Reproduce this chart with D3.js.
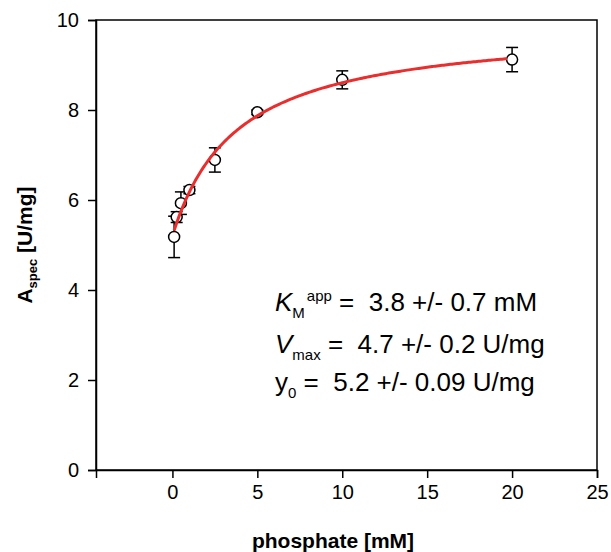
<!DOCTYPE html>
<html>
<head>
<meta charset="utf-8">
<script src="https://cdn.jsdelivr.net/npm/d3@7"></script>
<style>
  html, body { margin: 0; padding: 0; background: #fff; }
  svg { display: block; font-family: "Liberation Sans", Arial, sans-serif; }
  .pre { white-space: pre; }
</style>
</head>
<body>
<svg id="chart" width="611" height="552"></svg>
<script>
// ---- data ----
const phosphate = [0.1, 0.25, 0.5, 1, 2.5, 5, 10, 20];
const activity  = [5.18, 5.62, 5.93, 6.22, 6.89, 7.95, 8.67, 9.12];
const errors    = [0.46, 0.12, 0.25, 0.08, 0.27, 0.05, 0.2, 0.27];
const xTicks = [0, 5, 10, 15, 20, 25];
const yTicks = [0, 2, 4, 6, 8, 10];
// fit parameters (shown in the chart)
const fitKm = 3.8, fitVmax = 4.7, fitY0 = 5.2;
const fitRange = [0.1, 19.7];

const svg = d3.select("#chart");
const x = d3.scaleLinear().domain([-4.5, 25]).range([96, 597]);
const y = d3.scaleLinear().domain([0, 10]).range([470, 20]);

// frame
svg.append("rect").attr("x", 96).attr("y", 20).attr("width", 501).attr("height", 450)
  .attr("fill", "none").attr("stroke", "#000").attr("stroke-width", 1.5);

// axes
const xAxis = svg.append("g").attr("transform", "translate(0,470)")
  .call(d3.axisBottom(x).tickValues(xTicks).tickSize(8).tickPadding(7).tickFormat(d3.format("d")));
const yAxis = svg.append("g").attr("transform", "translate(96,0)")
  .call(d3.axisLeft(y).tickValues(yTicks).tickSize(8).tickPadding(9).tickFormat(d3.format("d")));
[xAxis, yAxis].forEach(g => {
  g.select(".domain").attr("stroke-width", 1.5);
  g.selectAll(".tick line").attr("stroke-width", 1.5);
  g.selectAll(".tick text").attr("font-size", 20).attr("fill", "#000")
    .attr("font-family", "'Liberation Sans', Arial, sans-serif");
});

// axis titles
svg.append("text").attr("x", 333).attr("y", 548).attr("text-anchor", "middle")
  .attr("font-size", 21).attr("font-weight", "bold").text("phosphate [mM]");
const yt = svg.append("text").attr("transform", "translate(32,245) rotate(-90)")
  .attr("text-anchor", "middle").attr("font-size", 21).attr("font-weight", "bold");
yt.append("tspan").text("A");
yt.append("tspan").attr("font-size", 13).attr("dy", 5).text("spec");
yt.append("tspan").attr("dy", -5).attr("class", "pre").text(" [U/mg]");

// error bars
const eb = svg.append("g").attr("stroke", "#000").attr("stroke-width", 1.5);
phosphate.forEach((p, i) => {
  const cx = x(p), lo = y(activity[i] - errors[i]), hi = y(activity[i] + errors[i]);
  eb.append("line").attr("x1", cx).attr("x2", cx).attr("y1", lo).attr("y2", hi);
  eb.append("line").attr("x1", cx - 6).attr("x2", cx + 6).attr("y1", lo).attr("y2", lo);
  eb.append("line").attr("x1", cx - 6).attr("x2", cx + 6).attr("y1", hi).attr("y2", hi);
});

// points
svg.append("g").selectAll("circle").data(phosphate).join("circle")
  .attr("cx", d => x(d)).attr("cy", (d, i) => y(activity[i])).attr("r", 5.5)
  .attr("fill", "#fff").attr("stroke", "#000").attr("stroke-width", 1.5);

// fit curve
const fitX = d3.range(0, 201).map(i => fitRange[0] + (fitRange[1] - fitRange[0]) * i / 200);
const line = d3.line().x(d => x(d)).y(d => y(fitY0 + fitVmax * d / (fitKm + d)));
svg.append("path").datum(fitX).attr("d", line).attr("fill", "none")
  .attr("stroke", "#ea2e2e").attr("stroke-width", 3);

// annotation
const ann = svg.append("g").attr("font-size", 26).attr("fill", "#000");
const t1 = ann.append("text").attr("x", 275).attr("y", 311).attr("class", "pre");
t1.append("tspan").attr("font-style", "italic").text("K");
t1.append("tspan").attr("font-size", 15).attr("dy", 7).text("M");
t1.append("tspan").attr("font-size", 15).attr("dy", -17).attr("dx", 2).text("app");
t1.append("tspan").attr("dy", 10).text(" =  3.8 +/- 0.7 mM");
const t2 = ann.append("text").attr("x", 275).attr("y", 353).attr("class", "pre");
t2.append("tspan").attr("font-style", "italic").text("V");
t2.append("tspan").attr("font-size", 15).attr("dy", 7).text("max");
t2.append("tspan").attr("dy", -7).text(" =  4.7 +/- 0.2 U/mg");
const t3 = ann.append("text").attr("x", 275).attr("y", 391).attr("class", "pre");
t3.append("tspan").text("y");
t3.append("tspan").attr("font-size", 15).attr("dy", 7).text("0");
t3.append("tspan").attr("dy", -7).text(" =  5.2 +/- 0.09 U/mg");
</script>
</body>
</html>
